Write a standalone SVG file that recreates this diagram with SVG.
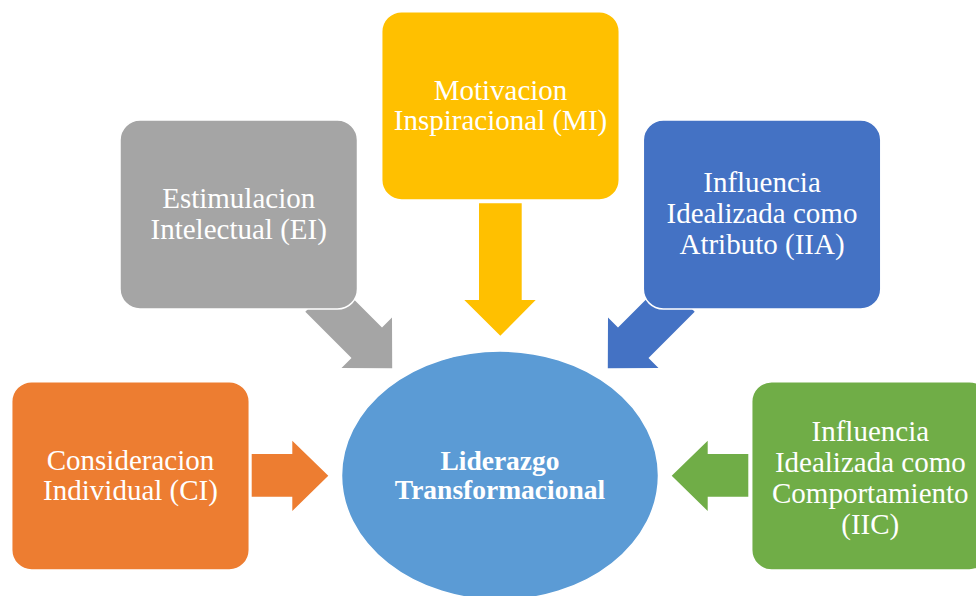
<svg xmlns="http://www.w3.org/2000/svg" width="976" height="596" viewBox="0 0 976 596">
  <style>
    .box { stroke: #ffffff; stroke-width: 1.5; }
    .lbl { font-family: "Liberation Serif", "Times New Roman", serif; font-size: 29px; fill: #ffffff; text-anchor: middle; }
    .core { font-family: "Liberation Serif", "Times New Roman", serif; font-size: 27.5px; font-weight: bold; fill: #ffffff; text-anchor: middle; }
  </style>
  <rect width="976" height="596" fill="#ffffff"/>

  <!-- block arrows pointing to the centre -->
  <g id="connectors">
    <polygon fill="#A5A5A5" points="305.3,311.7 335.7,281.3 382,327.5 392,317.5 392.2,368.2 341.5,368 351.5,358"/>
    <polygon fill="#FFC000" points="479,203.3 521.7,203.3 521.7,300 535.7,300 500.3,335.7 464.3,300 479,300"/>
    <polygon fill="#4472C4" points="694.7,311.7 664.3,281.3 618,327.5 608,317.5 607.8,368.2 658.5,368 648.5,358"/>
    <polygon fill="#ED7D31" points="251.7,454 292.3,454 292.3,440.7 328.3,475.7 292.3,511 292.3,496.7 251.7,496.7"/>
    <polygon fill="#70AD47" points="748.3,454 707.7,454 707.7,440.7 671.7,475.7 707.7,511 707.7,496.7 748.3,496.7"/>
  </g>

  <g id="node-ei">
    <rect class="box" x="120" y="120" width="237.5" height="189" rx="20" fill="#A5A5A5"/>
    <text class="lbl" x="238.7" y="208.3">Estimulacion</text>
    <text class="lbl" x="238.7" y="239.3">Intelectual (EI)</text>
  </g>

  <g id="node-mi">
    <rect class="box" x="381.7" y="11.7" width="237.6" height="188.3" rx="20" fill="#FFC000"/>
    <text class="lbl" x="500.5" y="100">Motivacion</text>
    <text class="lbl" x="500.5" y="130">Inspiracional (MI)</text>
  </g>

  <g id="node-iia">
    <rect class="box" x="643.3" y="120" width="237.5" height="189" rx="20" fill="#4472C4"/>
    <text class="lbl" x="762" y="191.7">Influencia</text>
    <text class="lbl" x="762" y="223">Idealizada como</text>
    <text class="lbl" x="762" y="254">Atributo (IIA)</text>
  </g>

  <g id="node-ci">
    <rect class="box" x="11.7" y="381.7" width="237.6" height="188.3" rx="20" fill="#ED7D31"/>
    <text class="lbl" x="130.5" y="470">Consideracion</text>
    <text class="lbl" x="130.5" y="500">Individual (CI)</text>
  </g>

  <g id="node-iic">
    <rect class="box" x="751.7" y="381.7" width="237.6" height="188.3" rx="20" fill="#70AD47"/>
    <text class="lbl" x="870.3" y="440.7">Influencia</text>
    <text class="lbl" x="870.3" y="471.7">Idealizada como</text>
    <text class="lbl" x="870.3" y="503">Comportamiento</text>
    <text class="lbl" x="870.3" y="533.5">(IIC)</text>
  </g>

  <g id="node-center">
    <ellipse class="box" cx="500" cy="475.5" rx="158.5" ry="124.5" fill="#5B9BD5"/>
    <text class="core" x="500" y="470">Liderazgo</text>
    <text class="core" x="500" y="498.5">Transformacional</text>
  </g>
</svg>
